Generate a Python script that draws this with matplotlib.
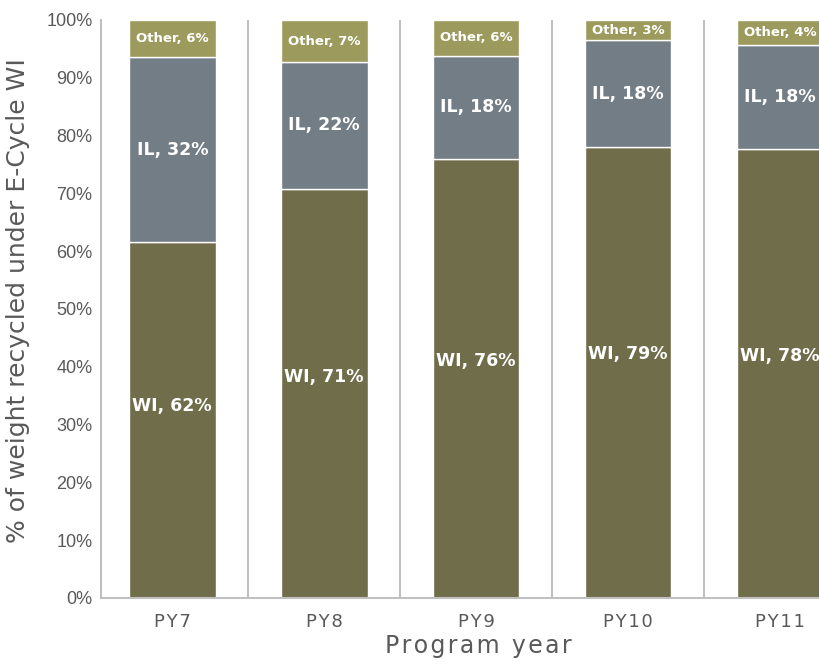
import numpy as np
from matplotlib import pyplot as plt

years = ['PY7', 'PY8', 'PY9', 'PY10', 'PY11']
wi = [61.5, 70.8, 76.0, 78.0, 77.6]
il = [32.1, 21.9, 17.8, 18.5, 18.1]
other = [6.4, 7.3, 6.2, 3.5, 4.3]
wi_labels = ['WI, 62%', 'WI, 71%', 'WI, 76%', 'WI, 79%', 'WI, 78%']
il_labels = ['IL, 32%', 'IL, 22%', 'IL, 18%', 'IL, 18%', 'IL, 18%']
other_labels = ['Other, 6%', 'Other, 7%', 'Other, 6%', 'Other, 3%', 'Other, 4%']

c_wi = '#706d4b'
c_il = '#737d85'
c_other = '#9c9a5c'
grey = '#595959'
hs = '\u200a'  # hair space, for the letter spacing of the axis texts

fig = plt.figure(figsize=(8.2, 6.65), dpi=100)
ax = fig.add_axes([0.123, 0.101, 0.921, 0.869])

x = np.arange(len(years))
w = 0.57
wi = np.array(wi)
il = np.array(il)
other = np.array(other)

ax.bar(x, wi, w, color=c_wi, edgecolor='white', linewidth=1)
ax.bar(x, il, w, bottom=wi, color=c_il, edgecolor='white', linewidth=1)
ax.bar(x, other, w, bottom=wi + il, color=c_other, edgecolor='white', linewidth=1)

for i in range(len(years)):
    ax.text(x[i], wi[i] * 0.54, wi_labels[i], ha='center', va='center',
            color='white', fontsize=12.5, fontweight='bold')
    ax.text(x[i], wi[i] + il[i] / 2, il_labels[i], ha='center', va='center',
            color='white', fontsize=12.5, fontweight='bold')
    ax.text(x[i], wi[i] + il[i] + other[i] / 2, other_labels[i], ha='center',
            va='center', color='white', fontsize=9.5, fontweight='bold')

ax.set_xlim(-0.47, 4.5)
ax.set_ylim(0, 100)
ax.set_yticks(np.arange(0, 101, 10))
ax.set_yticklabels([f'{v}%' for v in range(0, 101, 10)],
                   fontfamily='Liberation Sans', fontsize=13, color=grey)
ax.set_xticks(x)
ax.set_xticklabels([hs.join(y) for y in years], fontsize=13, color=grey)
ax.set_xticks(np.arange(0.5, 4.5, 1), minor=True)
ax.grid(which='minor', axis='x', color='#c0c0c0', linewidth=1.5)
ax.tick_params(which='both', length=0)
ax.tick_params(axis='y', pad=6)
ax.tick_params(axis='x', pad=11)
ax.set_axisbelow(True)

for s in ['top', 'right']:
    ax.spines[s].set_visible(False)
for s in ['left', 'bottom']:
    ax.spines[s].set_color('#c0c0c0')
    ax.spines[s].set_linewidth(1.5)

ax.set_ylabel('% of weight recycled under E-Cycle WI', fontsize=18, color=grey)
ax.yaxis.set_label_coords(-0.094, 0.515)
ax.set_xlabel(hs.join('Program year'), fontsize=17, color=grey, labelpad=2)

fig.savefig('out.png', dpi=100)
